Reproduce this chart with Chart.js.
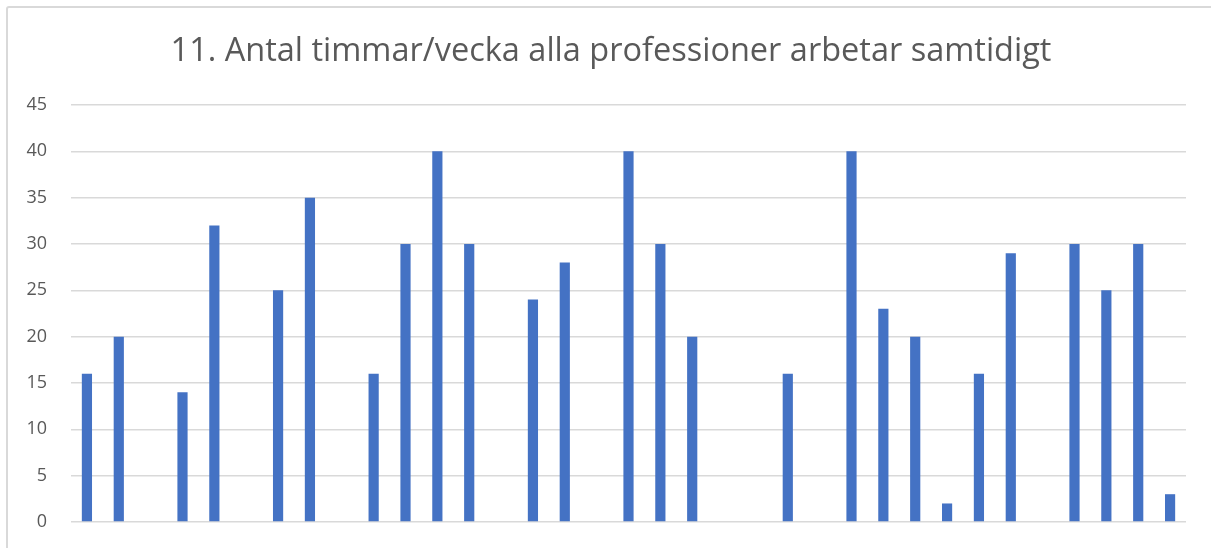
<!DOCTYPE html>
<html>
<head>
<meta charset="utf-8">
<script src="https://cdn.jsdelivr.net/npm/chart.js@4"></script>
<style>
  html, body { margin: 0; padding: 0; background: #fff; overflow: hidden; }
  #wrap { position: relative; width: 1211px; height: 548px; }
  #frame {
    position: absolute; left: 6px; top: 6px; width: 1300px; height: 600px;
    border: 2px solid #d9d9d9; border-radius: 3px; pointer-events: none;
  }
  canvas { position: absolute; left: 0; top: 0; }
</style>
</head>
<body>
<div id="wrap">
  <canvas id="chart" width="1211" height="548"></canvas>
  <div id="frame"></div>
</div>
<script>
/* Data (null = no answer) */
const TITLE = '11. Antal timmar/vecka alla professioner arbetar samtidigt';
const categories = ['1','2','3','4','5','6','7','8','9','10','11','12','13','14','15','16','17','18',
  '19','20','21','22','23','24','25','26','27','28','29','30','31','32','33','34','35'];
const hours = [16, 20, null, 14, 32, null, 25, 35, null, 16, 30, 40, 30, null, 24, 28, null, 40,
  30, 20, null, null, 16, null, 40, 23, 20, 2, 16, 29, null, 30, 25, 30, 3];
const yTicks = [0, 5, 10, 15, 20, 25, 30, 35, 40, 45];

const TEXT = '#595959';
const GRID = '#d9d9d9';
const BAR = '#4472c4';
const FONT = "'Open Sans', 'Noto Sans', sans-serif";

// Office centres the title a bit right of the canvas middle
const titleShift = {
  id: 'titleShift',
  afterLayout(chart) {
    if (chart.titleBlock) chart.titleBlock.left = 36;
  },
};

new Chart(document.getElementById('chart'), {
  type: 'bar',
  data: {
    labels: categories,
    datasets: [{
      data: hours,
      backgroundColor: BAR,
      borderWidth: 0,
      barPercentage: 0.32,
      categoryPercentage: 1,
    }],
  },
  plugins: [titleShift],
  options: {
    responsive: false,
    animation: false,
    layout: { padding: { left: 0, right: 25, top: 0, bottom: 26 } },
    plugins: {
      legend: { display: false },
      tooltip: { enabled: false },
      title: {
        display: true,
        text: TITLE,
        color: TEXT,
        font: { family: FONT, size: 32.5, weight: 'normal' },
        padding: { top: 32, bottom: 34 },
      },
    },
    scales: {
      x: { display: false },
      y: {
        min: 0,
        max: 45,
        afterBuildTicks: (axis) => { axis.ticks = yTicks.map(v => ({ value: v })); },
        afterFit: (axis) => {
          axis.width = 71;
          axis.paddingTop = 0;
          axis.paddingBottom = 0;
        },
        ticks: {
          color: TEXT,
          padding: 24,
          font: { family: FONT, size: 18 },
        },
        grid: { color: GRID, lineWidth: 1.5, drawTicks: false },
        border: { display: false },
      },
    },
  },
});
</script>
</body>
</html>
